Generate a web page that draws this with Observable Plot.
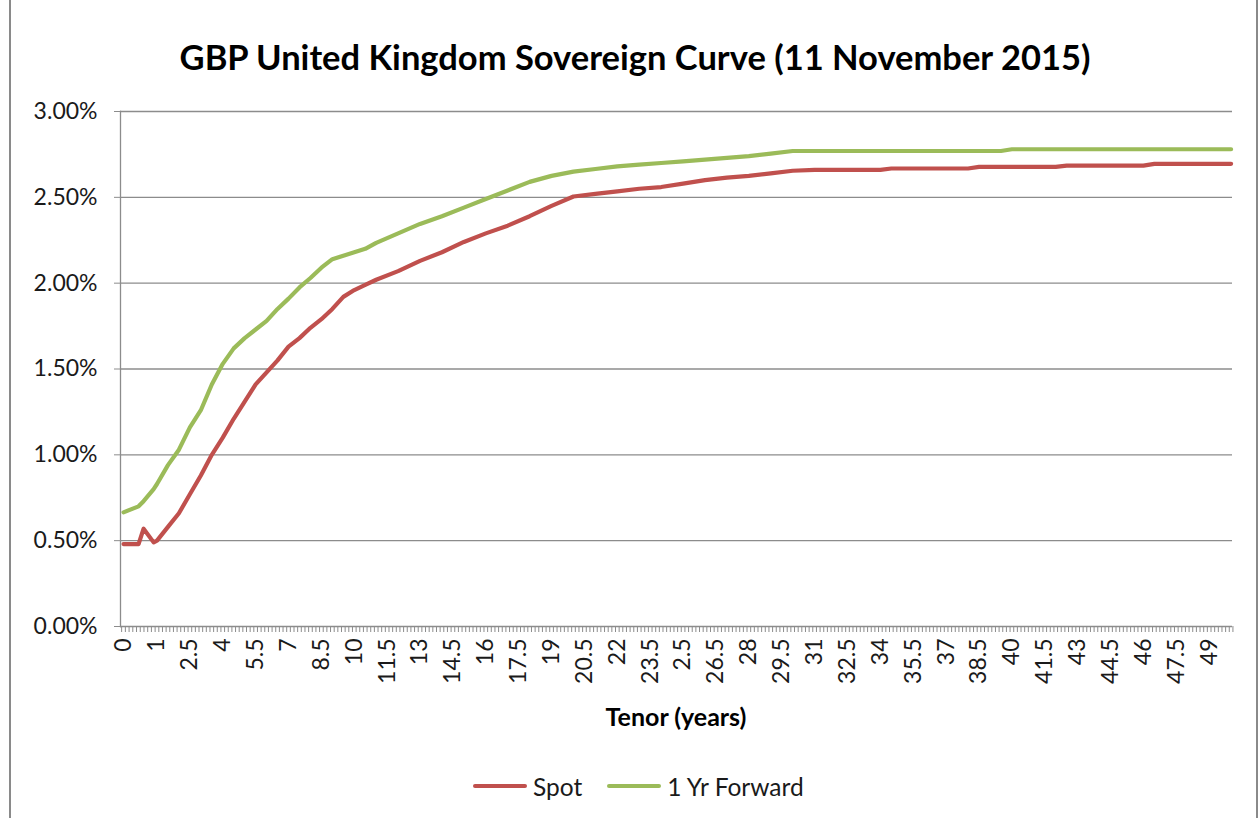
<!DOCTYPE html>
<html>
<head>
<meta charset="utf-8">
<script src="https://cdn.jsdelivr.net/npm/d3@7"></script>
<script src="https://cdn.jsdelivr.net/npm/@observablehq/plot@0.6"></script>
<style>
  body { margin: 0; background: #fff; }
  #wrap { position: relative; width: 1260px; height: 818px; overflow: hidden; font-family: Lato, "Open Sans", sans-serif; color: #1a1a1a; }
  #border { position: absolute; left: 9px; top: 0; width: 1249px; height: 818px; box-sizing: border-box; border-left: 2px solid #8a8a8a; border-right: 2px solid #8a8a8a; }
  #title { position: absolute; left: 0; top: 40px; width: 1270px; text-align: center; font-size: 34.5px; font-weight: 700; line-height: 1; color: #000; white-space: nowrap; }
  #chart { position: absolute; left: 0; top: 0; }
  #xtitle { position: absolute; left: 526px; top: 702px; width: 300px; text-align: center; font-size: 25px; font-weight: 700; line-height: 28px; color: #000; }
  #legend { position: absolute; left: 473px; top: 772px; height: 28px; display: flex; align-items: center; font-size: 24.5px; color: #1a1a1a; white-space: nowrap; }
  .sw { display: inline-block; width: 54px; height: 4px; border-radius: 2px; margin-right: 6px; }
  .item { display: flex; align-items: center; margin-right: 25px; }
</style>
</head>
<body>
<div id="wrap">
  <div id="border"></div>
  <div id="chart"></div>
  <div id="title">GBP United Kingdom Sovereign Curve (11 November 2015)</div>
  <div id="xtitle">Tenor (years)</div>
  <div id="legend"></div>
</div>
<script>
// Tenor (years) of each read point
const tenors = [0, 0.45, 0.6, 0.9, 1, 1.5, 2, 2.5, 3, 3.5, 4, 4.5, 5, 5.5, 6, 6.5, 7, 7.5, 8, 8.5,
  9, 9.5, 10, 10.5, 11, 12, 13, 14, 15, 16, 17, 18, 19, 20, 21, 22, 23, 24, 25, 26,
  27, 28, 29, 30, 31, 32, 33, 34, 34.5, 35, 36, 37, 38, 38.5, 39, 39.5, 40, 41, 42, 42.5,
  43, 44, 45, 46, 46.5, 47, 48, 49, 50];

// Spot yield (%)
const spot = [0.48, 0.48, 0.57, 0.49, 0.50, 0.58, 0.66, 0.77, 0.88, 1.00, 1.10, 1.21, 1.31, 1.41, 1.48, 1.55, 1.63, 1.68, 1.74, 1.79,
  1.85, 1.92, 1.96, 1.99, 2.02, 2.07, 2.13, 2.18, 2.24, 2.29, 2.335, 2.39, 2.45, 2.505, 2.52, 2.535, 2.55, 2.56, 2.58, 2.60,
  2.615, 2.625, 2.64, 2.655, 2.66, 2.66, 2.66, 2.66, 2.668, 2.668, 2.668, 2.668, 2.668, 2.677, 2.677, 2.677, 2.677, 2.677, 2.677, 2.685,
  2.685, 2.685, 2.685, 2.685, 2.695, 2.695, 2.695, 2.695, 2.695];

// 1 Yr Forward yield (%)
const forward = [0.665, 0.70, 0.73, 0.80, 0.83, 0.94, 1.03, 1.16, 1.26, 1.41, 1.53, 1.62, 1.68, 1.73, 1.78, 1.85, 1.91, 1.975, 2.03, 2.09,
  2.14, 2.16, 2.18, 2.20, 2.235, 2.29, 2.345, 2.39, 2.44, 2.49, 2.54, 2.59, 2.625, 2.65, 2.665, 2.68, 2.69, 2.70, 2.71, 2.72,
  2.73, 2.74, 2.755, 2.77, 2.77, 2.77, 2.77, 2.77, 2.77, 2.77, 2.77, 2.77, 2.77, 2.77, 2.77, 2.77, 2.78, 2.78, 2.78, 2.78,
  2.78, 2.78, 2.78, 2.78, 2.78, 2.78, 2.78, 2.78, 2.78];

const seriesNames = ["Spot", "1 Yr Forward"];
const seriesColors = ["#C0504D", "#9BBB59"];

// X tick labels (as printed on the chart)
const xTickValues = [0, 1, 2.5, 4, 5.5, 7, 8.5, 10, 11.5, 13, 14.5, 16, 17.5, 19, 20.5, 22, 23.5, 25,
  26.5, 28, 29.5, 31, 32.5, 34, 35.5, 37, 38.5, 40, 41.5, 43, 44.5, 46, 47.5, 49];
const xTickLabels = ["0", "1", "2.5", "4", "5.5", "7", "8.5", "10", "11.5", "13", "14.5", "16", "17.5", "19", "20.5", "22", "23.5", "2.5",
  "26.5", "28", "29.5", "31", "32.5", "34", "35.5", "37", "38.5", "40", "41.5", "43", "44.5", "46", "47.5", "49"];

// Y ticks (%)
const yTicks = [0, 0.5, 1, 1.5, 2, 2.5, 3];

const rows = [];
tenors.forEach((t, i) => {
  rows.push({tenor: t, value: spot[i], series: seriesNames[0]});
});
tenors.forEach((t, i) => {
  rows.push({tenor: t, value: forward[i], series: seriesNames[1]});
});

const labelMap = new Map(xTickValues.map((v, i) => [v, xTickLabels[i]]));

// category boundaries of the Excel category axis (9 categories in first year, 2-month steps after)
const categoryEdges = d3.range(-1, 9).map(i => (i + 0.5) / 9)
  .concat(d3.range(0, 295).map(k => 1 + (k + 0.5) / 6));

const grid = "#8c8c8c";

const chart = Plot.plot({
  width: 1260,
  height: 818,
  marginLeft: 120,
  marginRight: 28,
  marginTop: 111,
  marginBottom: 192,
  style: {fontFamily: "Lato, 'Open Sans', sans-serif", fontSize: "23px", color: "#1a1a1a", background: "transparent", overflow: "visible"},
  x: {type: "linear", domain: [0, 1, 50], range: [123, 156.5, 1230.6]},
  y: {domain: [0, 3]},
  color: {domain: seriesNames, range: seriesColors},
  marks: [
    Plot.ruleY(yTicks, {stroke: grid, strokeWidth: 1.3}),
    Plot.frame({anchor: "left", stroke: grid, strokeWidth: 1.3}),
    Plot.axisY({ticks: yTicks, tickSize: 6, tickPadding: 17, tickFormat: d => d.toFixed(2) + "%", label: null, stroke: grid}),
    Plot.axisX({ticks: categoryEdges, tickSize: 6, tickFormat: () => "", label: null, stroke: grid}),
    Plot.axisX({ticks: xTickValues, tickSize: 0, tickPadding: 12, tickRotate: -90, tickFormat: d => labelMap.get(d), label: null}),
    Plot.line(rows, {x: "tenor", y: "value", z: "series", stroke: "series", strokeWidth: 4.2, strokeLinejoin: "round", strokeLinecap: "round"})
  ]
});
document.getElementById("chart").appendChild(chart);

const legend = document.getElementById("legend");
seriesNames.forEach((name, i) => {
  const item = document.createElement("div");
  item.className = "item";
  const sw = document.createElement("span");
  sw.className = "sw";
  sw.style.background = seriesColors[i];
  const label = document.createElement("span");
  label.textContent = name;
  item.appendChild(sw);
  item.appendChild(label);
  legend.appendChild(item);
});
</script>
</body>
</html>
